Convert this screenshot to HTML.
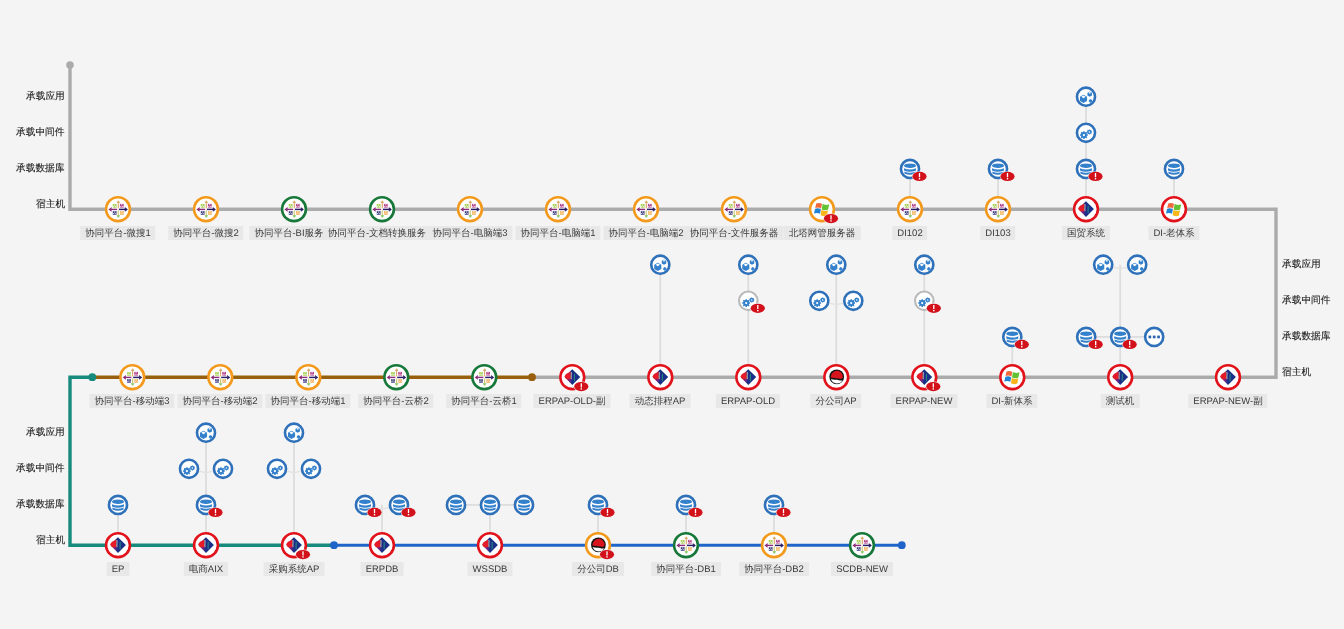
<!DOCTYPE html>
<html><head><meta charset="utf-8"><style>
html,body{margin:0;padding:0;}
body{width:1344px;height:629px;background:#f4f4f4;position:relative;overflow:hidden;font-family:"Liberation Sans",sans-serif;text-rendering:geometricPrecision;}
svg{position:absolute;left:0;top:0;}
.lv{position:absolute;font-size:9.7px;line-height:16.4px;color:#222;white-space:nowrap;will-change:transform;-webkit-text-stroke:0.12px #222;}
.lb{position:absolute;height:0;width:0;}
.lb span{position:absolute;left:0;top:0;transform:translateX(-50%);white-space:nowrap;font-size:9.5px;line-height:16.4px;height:14.3px;padding:0 5px;background:#e8e8e8;color:#3a3a3a;will-change:transform;}
</style></head><body>
<svg width="1344" height="629" viewBox="0 0 1344 629">

<defs>
<g id="q">
  <rect x="0" y="0" width="3.8" height="3.7" fill="currentColor" opacity="0.85"/>
  <path d="M1.3,0.4 h1.1 v1 h-1.1 Z M0.4,2 h1 v1 h-1 Z M2.4,2.1 h1 v1 h-1 Z" fill="#fff" opacity="0.85"/>
</g>
<g id="xt">
  <path d="M-0.9,0.2 H-6.8" stroke="#8a2c78" stroke-width="1.4"/>
  <path d="M-9.6,0.2 L-6.4,-2.1 L-6.4,2.5 Z" fill="#8a2c78"/>
  <path d="M0.9,0.2 H7" stroke="#2a1f66" stroke-width="1.5"/>
  <path d="M9.9,0.2 L6.8,-2.1 L6.8,2.5 Z" fill="#2a1f66"/>
  <path d="M0.3,-1 V-6.8" stroke="#dba66a" stroke-width="1.1"/>
  <path d="M0.3,-9 L-1.6,-6.2 L2.2,-6.2 Z" fill="#dba66a"/>
  <path d="M0.3,1.3 V6.4" stroke="#cfc46e" stroke-width="1.1"/>
  <path d="M0.3,8.8 L-1.6,6 L2.2,6 Z" fill="#88c45a"/>
  <use href="#q" x="-5.2" y="-5.2" color="#9bc93a"/>
  <use href="#q" x="1.9" y="-5.3" color="#a8277e"/>
  <use href="#q" x="-5.2" y="1.9" color="#22246e"/>
  <use href="#q" x="2" y="2" color="#f0a640"/>
</g>
<g id="aix">
  <path d="M-0.1,-8 L7.9,-0.3 L0,7.7 L-7.6,-0.5 Z" fill="#192f88"/>
  <path d="M-7.8,-0.4 C-7.2,-2.2 -6.2,-3.4 -5,-3.9 C-4,-4.3 -3,-4.8 -1.8,-6 L-1.6,1.8 C-2.8,2.6 -4.2,2.8 -5.2,2.4 C-6.4,1.8 -7.2,0.8 -7.8,-0.4 Z" fill="#e41c2a"/>
  <path d="M-5.2,2.4 C-4.2,2.8 -2.8,2.6 -1.6,1.8 L-1.4,5.9 Z" fill="#7d2286"/>
  <path d="M-1.1,-5.2 C-0.6,-3 -1.5,-1 -1,2" stroke="#f6dcb0" stroke-width="0.8" fill="none"/>
  <path d="M2.1,-3.4 C2.6,-1 1.6,1 2.2,4" stroke="#2a9a80" stroke-width="1.1" opacity="0.8" fill="none"/>
</g>
<g id="win">
  <path d="M-5.8,-5.6 C-4,-6.6 -2,-6.4 0,-5.4 L-0.9,-0.8 C-2.9,-1.8 -4.9,-2 -6.8,-1 Z" fill="#f2683a"/>
  <path d="M0.6,-5.1 C2.6,-4.1 4.8,-3.9 7.2,-5 L6.1,0.4 C3.8,1.5 1.6,1.3 -0.3,0.3 Z" fill="#62c233"/>
  <path d="M-7,-0.2 C-5.1,-1.2 -3.1,-1 -1.1,0 L-2,4.6 C-4,3.6 -6,3.4 -8,4.4 Z" fill="#1f83d6"/>
  <path d="M-0.5,0.9 C1.5,1.9 3.7,2.1 6,1 L5,6.2 C2.7,7.3 0.5,7.1 -1.4,6.1 Z" fill="#f6b61c"/>
</g>
<g id="rh">
  <circle cx="0.4" cy="-0.4" r="7.4" fill="#141414"/>
  <path d="M-5.6,0.4 C-5.4,-3.6 -2.8,-6.4 0.6,-6.5 C4,-6.5 6.4,-3.8 6.6,-0.4 C6.7,1.4 5,2 2.4,1.4 C-0.4,0.8 -3.4,1.1 -5.6,0.4 Z" fill="#d8141c"/>
  <path d="M-5.4,1.8 C-3,2.6 0,2.4 2.6,3 C4.4,3.4 5.6,3.3 6.3,2.7 C5.3,5.2 3.1,6.2 0.5,6.2 C-2.4,6.1 -4.6,4.4 -5.4,1.8 Z" fill="#fff"/>
</g>
<g id="db">
  <ellipse cx="0" cy="-3.2" rx="6" ry="2.3" fill="currentColor"/>
  <path d="M-6,-0.6 Q0,2 6,-0.6 V1.5 Q0,4.1 -6,1.5 Z" fill="currentColor"/>
  <path d="M-5.6,2.6 Q0,5.2 5.6,2.6 V4.5 Q0,7.1 -5.6,4.5 Z" fill="currentColor"/>
</g>
<g id="app"><path d="M-2.50,-1.90 L1.05,0.15 L1.05,4.25 L-2.50,6.30 L-6.05,4.25 L-6.05,0.15 Z" fill="currentColor"/><path d="M-2.50,-1.22 L-0.30,0.15 L-2.50,1.52 L-4.70,0.15 Z" fill="#fff"/><path d="M3.70,-5.20 L5.95,-3.90 L5.95,-1.30 L3.70,0.00 L1.45,-1.30 L1.45,-3.90 Z" fill="currentColor"/><path d="M3.70,-4.81 L5.10,-3.90 L3.70,-2.99 L2.30,-3.90 Z" fill="#fff"/><path d="M4.5,2.4 L6.1,3.3 L6.1,5.1 L4.5,6 L2.9,5.1 L2.9,3.3 Z" fill="currentColor"/></g>
<g id="mw">
  <circle cx="-2.1" cy="2.3" r="3" fill="currentColor"/>
  <path d="M-2.1,-1.6 V6.2 M-6,2.3 H1.8 M-4.9,-0.5 L0.7,5.1 M0.7,-0.5 L-4.9,5.1" stroke="currentColor" stroke-width="1.5"/>
  <circle cx="-2.1" cy="2.3" r="1.1" fill="#fff"/>
  <circle cx="3.4" cy="-0.9" r="2" fill="currentColor"/>
  <path d="M3.4,-3.4 V1.6 M0.9,-0.9 H5.9 M1.6,-2.7 L5.2,0.9 M5.2,-2.7 L1.6,0.9" stroke="currentColor" stroke-width="1.1"/>
  <circle cx="3.4" cy="-0.9" r="0.75" fill="#fff"/>
</g>
<g id="more">
  <rect x="-5.7" y="-1.3" width="2.7" height="2.7" fill="#2c64ac"/>
  <rect x="-1.35" y="-1.3" width="2.7" height="2.7" fill="#2c64ac"/>
  <rect x="3" y="-1.3" width="2.7" height="2.7" fill="#2c64ac"/>
</g>
<g id="alert">
  <ellipse cx="0" cy="0" rx="7.6" ry="5" fill="#f4f4f4"/><ellipse cx="0" cy="0" rx="7.1" ry="4.6" fill="#d3111b"/>
  <path d="M0,-3.4 V0.8" stroke="#fff" stroke-width="1.3"/>
  <rect x="-0.7" y="1.6" width="1.4" height="1.4" fill="#fff"/>
</g>
</defs>

<g fill="none" stroke="#dddddd" stroke-width="1.8"><path d="M910,209.2 V168.89999999999998"/><path d="M998,209.2 V168.89999999999998"/><path d="M1086,209.2 V96.69999999999999"/><path d="M1174,209.2 V168.89999999999998"/><path d="M660.3,377.2 V264.7"/><path d="M748.3,377.2 V264.7"/><path d="M836.3,377.2 V264.7"/><path d="M924.3,377.2 V264.7"/><path d="M1012.3,377.2 V336.9"/><path d="M1120.2,377.2 V264.7"/><path d="M1086.2,336.9 H1154.2"/><path d="M118,545.2 V504.90000000000003"/><path d="M206,545.2 V432.70000000000005"/><path d="M294,545.2 V432.70000000000005"/><path d="M382,545.2 V504.90000000000003"/><path d="M490,545.2 V504.90000000000003"/><path d="M456,504.90000000000003 H524"/><path d="M598,545.2 V504.90000000000003"/><path d="M686,545.2 V504.90000000000003"/><path d="M774,545.2 V504.90000000000003"/></g><g fill="none" stroke="#e4e4e4" stroke-width="1.5"><path d="M819.3,300.79999999999995 L836.3,304.79999999999995 L853.3,300.79999999999995"/><path d="M1103.2,264.7 L1120.2,268.7 L1137.2,264.7"/><path d="M189,468.80000000000007 L206,472.80000000000007 L223,468.80000000000007"/><path d="M277,468.80000000000007 L294,472.80000000000007 L311,468.80000000000007"/><path d="M365,504.90000000000003 L382,508.90000000000003 L399,504.90000000000003"/></g>

<path d="M70,65 V209.2 H1276 V377.2 H532" fill="none" stroke="#ababab" stroke-width="3.4"/>
<circle cx="70" cy="65" r="3.8" fill="#ababab"/>
<path d="M532,377.2 H92" fill="none" stroke="#98600c" stroke-width="3.4"/>
<circle cx="532" cy="377.2" r="3.9" fill="#98600c"/>
<path d="M92,377.2 H70 V545.2 H334" fill="none" stroke="#168a7c" stroke-width="3.4"/>
<circle cx="92.3" cy="377.2" r="3.9" fill="#168a7c"/>
<path d="M334,545.2 H901.8" fill="none" stroke="#1f64c8" stroke-width="3"/>
<circle cx="334" cy="545.2" r="3.9" fill="#1f64c8"/>
<circle cx="901.8" cy="545.2" r="3.9" fill="#1f64c8"/>

<circle cx="118" cy="209.2" r="11.9" fill="#fff" stroke="#f39a1c" stroke-width="2.6"/><use href="#xt" x="118" y="209.2"/><circle cx="206" cy="209.2" r="11.9" fill="#fff" stroke="#f39a1c" stroke-width="2.6"/><use href="#xt" x="206" y="209.2"/><circle cx="294" cy="209.2" r="11.9" fill="#fff" stroke="#17783a" stroke-width="2.6"/><use href="#xt" x="294" y="209.2"/><circle cx="382" cy="209.2" r="11.9" fill="#fff" stroke="#17783a" stroke-width="2.6"/><use href="#xt" x="382" y="209.2"/><circle cx="470" cy="209.2" r="11.9" fill="#fff" stroke="#f39a1c" stroke-width="2.6"/><use href="#xt" x="470" y="209.2"/><circle cx="558" cy="209.2" r="11.9" fill="#fff" stroke="#f39a1c" stroke-width="2.6"/><use href="#xt" x="558" y="209.2"/><circle cx="646" cy="209.2" r="11.9" fill="#fff" stroke="#f39a1c" stroke-width="2.6"/><use href="#xt" x="646" y="209.2"/><circle cx="734" cy="209.2" r="11.9" fill="#fff" stroke="#f39a1c" stroke-width="2.6"/><use href="#xt" x="734" y="209.2"/><circle cx="822" cy="209.2" r="11.9" fill="#fff" stroke="#f39a1c" stroke-width="2.6"/><use href="#win" x="822" y="209.2"/><use href="#alert" x="831" y="218.6"/><circle cx="910" cy="209.2" r="11.9" fill="#fff" stroke="#f39a1c" stroke-width="2.6"/><use href="#xt" x="910" y="209.2"/><circle cx="998" cy="209.2" r="11.9" fill="#fff" stroke="#f39a1c" stroke-width="2.6"/><use href="#xt" x="998" y="209.2"/><circle cx="1086" cy="209.2" r="11.9" fill="#fff" stroke="#e2121b" stroke-width="2.6"/><use href="#aix" x="1086" y="209.2"/><circle cx="1174" cy="209.2" r="11.9" fill="#fff" stroke="#e2121b" stroke-width="2.6"/><use href="#win" x="1174" y="209.2"/><circle cx="132.3" cy="377.2" r="11.9" fill="#fff" stroke="#f39a1c" stroke-width="2.6"/><use href="#xt" x="132.3" y="377.2"/><circle cx="220.3" cy="377.2" r="11.9" fill="#fff" stroke="#f39a1c" stroke-width="2.6"/><use href="#xt" x="220.3" y="377.2"/><circle cx="308.3" cy="377.2" r="11.9" fill="#fff" stroke="#f39a1c" stroke-width="2.6"/><use href="#xt" x="308.3" y="377.2"/><circle cx="396.3" cy="377.2" r="11.9" fill="#fff" stroke="#17783a" stroke-width="2.6"/><use href="#xt" x="396.3" y="377.2"/><circle cx="484.3" cy="377.2" r="11.9" fill="#fff" stroke="#17783a" stroke-width="2.6"/><use href="#xt" x="484.3" y="377.2"/><circle cx="572.3" cy="377.2" r="11.9" fill="#fff" stroke="#e2121b" stroke-width="2.6"/><use href="#aix" x="572.3" y="377.2"/><use href="#alert" x="581.3" y="386.59999999999997"/><circle cx="660.3" cy="377.2" r="11.9" fill="#fff" stroke="#e2121b" stroke-width="2.6"/><use href="#aix" x="660.3" y="377.2"/><circle cx="748.3" cy="377.2" r="11.9" fill="#fff" stroke="#e2121b" stroke-width="2.6"/><use href="#aix" x="748.3" y="377.2"/><circle cx="836.3" cy="377.2" r="11.9" fill="#fff" stroke="#e2121b" stroke-width="2.6"/><use href="#rh" x="836.3" y="377.2"/><circle cx="924.3" cy="377.2" r="11.9" fill="#fff" stroke="#e2121b" stroke-width="2.6"/><use href="#aix" x="924.3" y="377.2"/><use href="#alert" x="933.3" y="386.59999999999997"/><circle cx="1012.3" cy="377.2" r="11.9" fill="#fff" stroke="#e2121b" stroke-width="2.6"/><use href="#win" x="1012.3" y="377.2"/><circle cx="1120.2" cy="377.2" r="11.9" fill="#fff" stroke="#e2121b" stroke-width="2.6"/><use href="#aix" x="1120.2" y="377.2"/><circle cx="1228" cy="377.2" r="11.9" fill="#fff" stroke="#e2121b" stroke-width="2.6"/><use href="#aix" x="1228" y="377.2"/><circle cx="118" cy="545.2" r="11.9" fill="#fff" stroke="#e2121b" stroke-width="2.6"/><use href="#aix" x="118" y="545.2"/><circle cx="206" cy="545.2" r="11.9" fill="#fff" stroke="#e2121b" stroke-width="2.6"/><use href="#aix" x="206" y="545.2"/><circle cx="294" cy="545.2" r="11.9" fill="#fff" stroke="#e2121b" stroke-width="2.6"/><use href="#aix" x="294" y="545.2"/><use href="#alert" x="303" y="554.6"/><circle cx="382" cy="545.2" r="11.9" fill="#fff" stroke="#e2121b" stroke-width="2.6"/><use href="#aix" x="382" y="545.2"/><circle cx="490" cy="545.2" r="11.9" fill="#fff" stroke="#e2121b" stroke-width="2.6"/><use href="#aix" x="490" y="545.2"/><circle cx="598" cy="545.2" r="11.9" fill="#fff" stroke="#f39a1c" stroke-width="2.6"/><use href="#rh" x="598" y="545.2"/><use href="#alert" x="607" y="554.6"/><circle cx="686" cy="545.2" r="11.9" fill="#fff" stroke="#17783a" stroke-width="2.6"/><use href="#xt" x="686" y="545.2"/><circle cx="774" cy="545.2" r="11.9" fill="#fff" stroke="#f39a1c" stroke-width="2.6"/><use href="#xt" x="774" y="545.2"/><circle cx="862" cy="545.2" r="11.9" fill="#fff" stroke="#17783a" stroke-width="2.6"/><use href="#xt" x="862" y="545.2"/>
<circle cx="910" cy="168.89999999999998" r="9.05" fill="#fff" stroke="#2e70b9" stroke-width="2.6"/><use href="#db" x="910" y="168.89999999999998" color="#3380cc"/><use href="#alert" x="919.5" y="176.39999999999998"/><circle cx="998" cy="168.89999999999998" r="9.05" fill="#fff" stroke="#2e70b9" stroke-width="2.6"/><use href="#db" x="998" y="168.89999999999998" color="#3380cc"/><use href="#alert" x="1007.5" y="176.39999999999998"/><circle cx="1086" cy="168.89999999999998" r="9.05" fill="#fff" stroke="#2e70b9" stroke-width="2.6"/><use href="#db" x="1086" y="168.89999999999998" color="#3380cc"/><use href="#alert" x="1095.5" y="176.39999999999998"/><circle cx="1086" cy="132.79999999999998" r="9.05" fill="#fff" stroke="#2e70b9" stroke-width="2.6"/><use href="#mw" x="1086" y="132.79999999999998" color="#3380cc"/><circle cx="1086" cy="96.69999999999999" r="9.05" fill="#fff" stroke="#2e70b9" stroke-width="2.6"/><use href="#app" x="1086" y="96.69999999999999" color="#3380cc"/><circle cx="1174" cy="168.89999999999998" r="9.05" fill="#fff" stroke="#2e70b9" stroke-width="2.6"/><use href="#db" x="1174" y="168.89999999999998" color="#3380cc"/><circle cx="660.3" cy="264.7" r="9.05" fill="#fff" stroke="#2e70b9" stroke-width="2.6"/><use href="#app" x="660.3" y="264.7" color="#3380cc"/><circle cx="748.3" cy="300.79999999999995" r="9.3" fill="#fff" stroke="#bababa" stroke-width="2.1"/><use href="#mw" x="748.3" y="300.79999999999995" color="#3380cc"/><use href="#alert" x="757.8" y="308.29999999999995"/><circle cx="748.3" cy="264.7" r="9.05" fill="#fff" stroke="#2e70b9" stroke-width="2.6"/><use href="#app" x="748.3" y="264.7" color="#3380cc"/><circle cx="819.3" cy="300.79999999999995" r="9.05" fill="#fff" stroke="#2e70b9" stroke-width="2.6"/><use href="#mw" x="819.3" y="300.79999999999995" color="#3380cc"/><circle cx="853.3" cy="300.79999999999995" r="9.05" fill="#fff" stroke="#2e70b9" stroke-width="2.6"/><use href="#mw" x="853.3" y="300.79999999999995" color="#3380cc"/><circle cx="836.3" cy="264.7" r="9.05" fill="#fff" stroke="#2e70b9" stroke-width="2.6"/><use href="#app" x="836.3" y="264.7" color="#3380cc"/><circle cx="924.3" cy="300.79999999999995" r="9.3" fill="#fff" stroke="#bababa" stroke-width="2.1"/><use href="#mw" x="924.3" y="300.79999999999995" color="#3380cc"/><use href="#alert" x="933.8" y="308.29999999999995"/><circle cx="924.3" cy="264.7" r="9.05" fill="#fff" stroke="#2e70b9" stroke-width="2.6"/><use href="#app" x="924.3" y="264.7" color="#3380cc"/><circle cx="1012.3" cy="336.9" r="9.05" fill="#fff" stroke="#2e70b9" stroke-width="2.6"/><use href="#db" x="1012.3" y="336.9" color="#3380cc"/><use href="#alert" x="1021.8" y="344.4"/><circle cx="1086.2" cy="336.9" r="9.05" fill="#fff" stroke="#2e70b9" stroke-width="2.6"/><use href="#db" x="1086.2" y="336.9" color="#3380cc"/><use href="#alert" x="1095.7" y="344.4"/><circle cx="1120.2" cy="336.9" r="9.05" fill="#fff" stroke="#2e70b9" stroke-width="2.6"/><use href="#db" x="1120.2" y="336.9" color="#3380cc"/><use href="#alert" x="1129.7" y="344.4"/><circle cx="1154.2" cy="336.9" r="9.05" fill="#fff" stroke="#2e70b9" stroke-width="2.6"/><use href="#more" x="1154.2" y="336.9" color="#3380cc"/><circle cx="1103.2" cy="264.7" r="9.05" fill="#fff" stroke="#2e70b9" stroke-width="2.6"/><use href="#app" x="1103.2" y="264.7" color="#3380cc"/><circle cx="1137.2" cy="264.7" r="9.05" fill="#fff" stroke="#2e70b9" stroke-width="2.6"/><use href="#app" x="1137.2" y="264.7" color="#3380cc"/><circle cx="118" cy="504.90000000000003" r="9.05" fill="#fff" stroke="#2e70b9" stroke-width="2.6"/><use href="#db" x="118" y="504.90000000000003" color="#3380cc"/><circle cx="206" cy="504.90000000000003" r="9.05" fill="#fff" stroke="#2e70b9" stroke-width="2.6"/><use href="#db" x="206" y="504.90000000000003" color="#3380cc"/><use href="#alert" x="215.5" y="512.4000000000001"/><circle cx="189" cy="468.80000000000007" r="9.05" fill="#fff" stroke="#2e70b9" stroke-width="2.6"/><use href="#mw" x="189" y="468.80000000000007" color="#3380cc"/><circle cx="223" cy="468.80000000000007" r="9.05" fill="#fff" stroke="#2e70b9" stroke-width="2.6"/><use href="#mw" x="223" y="468.80000000000007" color="#3380cc"/><circle cx="206" cy="432.70000000000005" r="9.05" fill="#fff" stroke="#2e70b9" stroke-width="2.6"/><use href="#app" x="206" y="432.70000000000005" color="#3380cc"/><circle cx="277" cy="468.80000000000007" r="9.05" fill="#fff" stroke="#2e70b9" stroke-width="2.6"/><use href="#mw" x="277" y="468.80000000000007" color="#3380cc"/><circle cx="311" cy="468.80000000000007" r="9.05" fill="#fff" stroke="#2e70b9" stroke-width="2.6"/><use href="#mw" x="311" y="468.80000000000007" color="#3380cc"/><circle cx="294" cy="432.70000000000005" r="9.05" fill="#fff" stroke="#2e70b9" stroke-width="2.6"/><use href="#app" x="294" y="432.70000000000005" color="#3380cc"/><circle cx="365" cy="504.90000000000003" r="9.05" fill="#fff" stroke="#2e70b9" stroke-width="2.6"/><use href="#db" x="365" y="504.90000000000003" color="#3380cc"/><use href="#alert" x="374.5" y="512.4000000000001"/><circle cx="399" cy="504.90000000000003" r="9.05" fill="#fff" stroke="#2e70b9" stroke-width="2.6"/><use href="#db" x="399" y="504.90000000000003" color="#3380cc"/><use href="#alert" x="408.5" y="512.4000000000001"/><circle cx="456" cy="504.90000000000003" r="9.05" fill="#fff" stroke="#2e70b9" stroke-width="2.6"/><use href="#db" x="456" y="504.90000000000003" color="#3380cc"/><circle cx="490" cy="504.90000000000003" r="9.05" fill="#fff" stroke="#2e70b9" stroke-width="2.6"/><use href="#db" x="490" y="504.90000000000003" color="#3380cc"/><circle cx="524" cy="504.90000000000003" r="9.05" fill="#fff" stroke="#2e70b9" stroke-width="2.6"/><use href="#db" x="524" y="504.90000000000003" color="#3380cc"/><circle cx="598" cy="504.90000000000003" r="9.05" fill="#fff" stroke="#2e70b9" stroke-width="2.6"/><use href="#db" x="598" y="504.90000000000003" color="#3380cc"/><use href="#alert" x="607.5" y="512.4000000000001"/><circle cx="686" cy="504.90000000000003" r="9.05" fill="#fff" stroke="#2e70b9" stroke-width="2.6"/><use href="#db" x="686" y="504.90000000000003" color="#3380cc"/><use href="#alert" x="695.5" y="512.4000000000001"/><circle cx="774" cy="504.90000000000003" r="9.05" fill="#fff" stroke="#2e70b9" stroke-width="2.6"/><use href="#db" x="774" y="504.90000000000003" color="#3380cc"/><use href="#alert" x="783.5" y="512.4000000000001"/>
</svg>
<div class="lv r" style="top:89px;right:1279.2px">承载应用</div><div class="lv" style="top:257px;left:1282px">承载应用</div><div class="lv r" style="top:425px;right:1279.2px">承载应用</div><div class="lv r" style="top:125px;right:1279.2px">承载中间件</div><div class="lv" style="top:293px;left:1282px">承载中间件</div><div class="lv r" style="top:461px;right:1279.2px">承载中间件</div><div class="lv r" style="top:161px;right:1279.2px">承载数据库</div><div class="lv" style="top:329px;left:1282px">承载数据库</div><div class="lv r" style="top:497px;right:1279.2px">承载数据库</div><div class="lv r" style="top:197px;right:1279.2px">宿主机</div><div class="lv" style="top:365px;left:1282px">宿主机</div><div class="lv r" style="top:533px;right:1279.2px">宿主机</div>
<div class="lb" style="left:118px;top:225.7px"><span>协同平台-微搜1</span></div><div class="lb" style="left:206px;top:225.7px"><span>协同平台-微搜2</span></div><div class="lb" style="left:288.75px;top:225.7px"><span>协同平台-BI服务</span></div><div class="lb" style="left:376.8px;top:225.7px"><span>协同平台-文档转换服务</span></div><div class="lb" style="left:470px;top:225.7px"><span>协同平台-电脑端3</span></div><div class="lb" style="left:558px;top:225.7px"><span>协同平台-电脑端1</span></div><div class="lb" style="left:646px;top:225.7px"><span>协同平台-电脑端2</span></div><div class="lb" style="left:734px;top:225.7px"><span>协同平台-文件服务器</span></div><div class="lb" style="left:822px;top:225.7px"><span>北塔网管服务器</span></div><div class="lb" style="left:910px;top:225.7px"><span>DI102</span></div><div class="lb" style="left:998px;top:225.7px"><span>DI103</span></div><div class="lb" style="left:1086px;top:225.7px"><span>国贸系统</span></div><div class="lb" style="left:1174px;top:225.7px"><span>DI-老体系</span></div><div class="lb" style="left:132.3px;top:393.7px"><span>协同平台-移动端3</span></div><div class="lb" style="left:220.3px;top:393.7px"><span>协同平台-移动端2</span></div><div class="lb" style="left:308.3px;top:393.7px"><span>协同平台-移动端1</span></div><div class="lb" style="left:396.3px;top:393.7px"><span>协同平台-云桥2</span></div><div class="lb" style="left:484.3px;top:393.7px"><span>协同平台-云桥1</span></div><div class="lb" style="left:572.3px;top:393.7px"><span>ERPAP-OLD-副</span></div><div class="lb" style="left:660.3px;top:393.7px"><span>动态排程AP</span></div><div class="lb" style="left:748.3px;top:393.7px"><span>ERPAP-OLD</span></div><div class="lb" style="left:836.3px;top:393.7px"><span>分公司AP</span></div><div class="lb" style="left:924.3px;top:393.7px"><span>ERPAP-NEW</span></div><div class="lb" style="left:1012.3px;top:393.7px"><span>DI-新体系</span></div><div class="lb" style="left:1120.2px;top:393.7px"><span>测试机</span></div><div class="lb" style="left:1228px;top:393.7px"><span>ERPAP-NEW-副</span></div><div class="lb" style="left:118px;top:561.7px"><span>EP</span></div><div class="lb" style="left:206px;top:561.7px"><span>电商AIX</span></div><div class="lb" style="left:294px;top:561.7px"><span>采购系统AP</span></div><div class="lb" style="left:382px;top:561.7px"><span>ERPDB</span></div><div class="lb" style="left:490px;top:561.7px"><span>WSSDB</span></div><div class="lb" style="left:598px;top:561.7px"><span>分公司DB</span></div><div class="lb" style="left:686px;top:561.7px"><span>协同平台-DB1</span></div><div class="lb" style="left:774px;top:561.7px"><span>协同平台-DB2</span></div><div class="lb" style="left:862px;top:561.7px"><span>SCDB-NEW</span></div>
</body></html>
